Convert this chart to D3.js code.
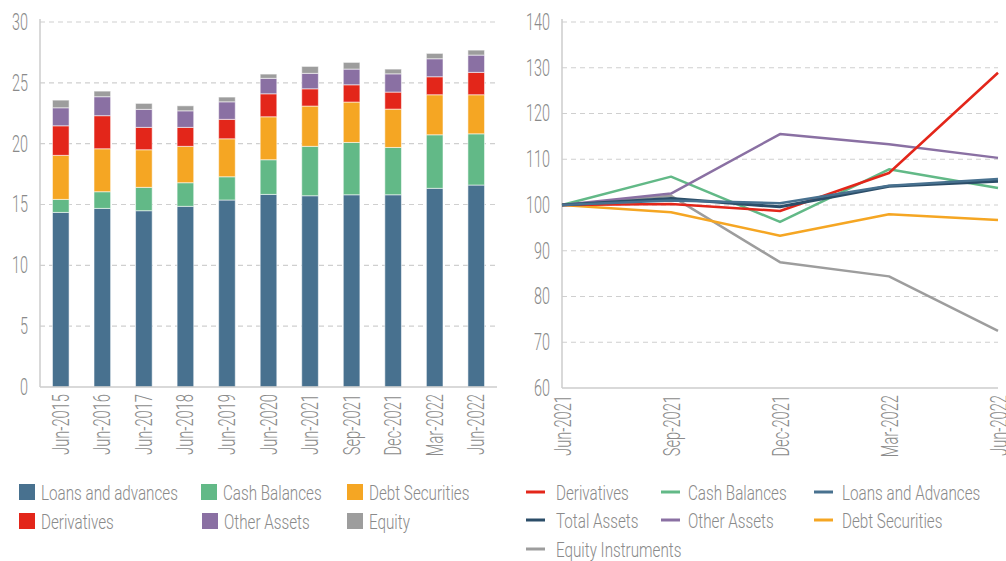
<!DOCTYPE html>
<html>
<head>
<meta charset="utf-8">
<script src="https://cdn.jsdelivr.net/npm/d3@7"></script>
<style>
  html, body { margin: 0; padding: 0; background: #fff; }
  svg text { font-family: Roboto, "Liberation Sans", sans-serif; font-weight: 300; fill: #8a8a8a; }
</style>
</head>
<body>
<svg id="chart" width="1006" height="561"></svg>
<script>
// ---------- Left chart data ----------
const barCategories = ["Jun-2015","Jun-2016","Jun-2017","Jun-2018","Jun-2019","Jun-2020","Jun-2021","Sep-2021","Dec-2021","Mar-2022","Jun-2022"];
const loansAdvances = [14.35,14.68,14.49,14.85,15.37,15.83,15.72,15.80,15.80,16.33,16.60];
const cashBalances  = [1.07,1.37,1.92,1.94,1.91,2.85,4.06,4.30,3.89,4.40,4.21];
const debtSecurities= [3.62,3.53,3.09,2.99,3.12,3.53,3.31,3.32,3.15,3.29,3.21];
const derivatives   = [2.43,2.72,1.84,1.56,1.60,1.89,1.42,1.42,1.40,1.48,1.84];
const otherAssets   = [1.48,1.56,1.48,1.36,1.44,1.27,1.27,1.29,1.50,1.48,1.42];
const equity        = [0.63,0.46,0.49,0.41,0.39,0.35,0.57,0.55,0.39,0.44,0.41];
const barSeriesNames = ["Loans and advances","Cash Balances","Debt Securities","Derivatives","Other Assets","Equity"];
const barTicks = [0,5,10,15,20,25,30];

// ---------- Right chart data ----------
const lineCategories = ["Jun-2021","Sep-2021","Dec-2021","Mar-2022","Jun-2022"];
const idxDerivatives = [100,100.2,98.7,107.0,128.9];
const idxCash        = [100,106.2,96.3,107.8,103.7];
const idxLoans       = [100,101.0,100.4,104.2,105.7];
const idxTotal       = [100,101.4,99.6,104.1,105.2];
const idxOther       = [100,102.5,115.5,113.3,110.3];
const idxDebt        = [100,98.4,93.3,98.0,96.7];
const idxEquity      = [100,102.0,87.5,84.4,72.5];
const lineTicks = [60,70,80,90,100,110,120,130,140];

const colors = {
  loans: "#48718f", cash: "#62b987", debt: "#f5a623", deriv: "#e3261a",
  other: "#8a70a3", equity: "#9d9d9d", total: "#2b4d68"
};

const svg = d3.select("#chart");
const axisFont = 23;
const legendFont = 21;
const textColor = "#8a8a8a";

// measure helper to emulate a condensed face
function measure(str, size) {
  const t = svg.append("text").attr("font-size", size).text(str);
  const w = t.node().getComputedTextLength();
  t.remove();
  return w;
}
const fTick = 16 / measure("30", axisFont);
const fXLab = 61 / measure("Jun-2015", axisFont);
const fLeg  = 137 / measure("Loans and advances", legendFont);

function condenseH(sel, f) {
  sel.each(function() {
    const t = d3.select(this);
    const x = +t.attr("x") || 0;
    t.attr("transform", `translate(${x * (1 - f)},0) scale(${f},1)`);
  });
}
function styleYAxis(ya) {
  ya.select(".domain").remove();
  ya.selectAll("text").attr("font-size", axisFont).attr("fill", textColor)
    .style("font-family", "Roboto, sans-serif").style("font-weight", 300);
  condenseH(ya.selectAll("text"), fTick);
}
function styleXAxis(xa) {
  xa.select(".domain").remove();
  xa.selectAll("text").attr("font-size", axisFont).attr("fill", textColor)
    .style("font-family", "Roboto, sans-serif").style("font-weight", 300)
    .attr("text-anchor", "end")
    .attr("transform", `rotate(-90) scale(${fXLab},1)`)
    .attr("x", -7 / fXLab).attr("y", 0).attr("dy", "0.35em");
}

// ================= LEFT: stacked bars =================
(function(){
  const m = {left: 40, right: 497, top: 22, bottom: 387};
  const x = d3.scaleBand().domain(barCategories).range([m.left, m.right]).paddingInner(0.6).paddingOuter(0.3);
  const y = d3.scaleLinear().domain([0,30]).range([m.bottom, m.top]);
  const g = svg.append("g");

  g.selectAll("line.grid").data(barTicks.filter(d => d > 0)).join("line")
    .attr("x1", m.left).attr("x2", m.right)
    .attr("y1", d => y(d)).attr("y2", d => y(d))
    .attr("stroke", "#cfcfcf").attr("stroke-width", 1.2).attr("stroke-dasharray", "5,4");

  const table = barCategories.map((c,i) => ({
    cat: c, s0: loansAdvances[i], s1: cashBalances[i], s2: debtSecurities[i],
    s3: derivatives[i], s4: otherAssets[i], s5: equity[i]
  }));
  const keys = ["s0","s1","s2","s3","s4","s5"];
  const keyColors = [colors.loans, colors.cash, colors.debt, colors.deriv, colors.other, colors.equity];
  const stacked = d3.stack().keys(keys)(table);

  g.selectAll("g.layer").data(stacked).join("g")
    .attr("fill", (d,i) => keyColors[i])
    .selectAll("rect").data(d => d).join("rect")
      .attr("x", d => x(d.data.cat))
      .attr("width", x.bandwidth())
      .attr("y", d => y(d[1]))
      .attr("height", d => y(d[0]) - y(d[1]))
      .attr("stroke", "rgba(255,255,255,0.55)").attr("stroke-width", 1);

  g.append("line").attr("x1", m.left).attr("x2", m.left).attr("y1", m.top - 3).attr("y2", m.bottom)
    .attr("stroke", "#cccccc").attr("stroke-width", 1.5);
  g.append("line").attr("x1", m.left).attr("x2", m.right).attr("y1", m.bottom).attr("y2", m.bottom)
    .attr("stroke", "#cccccc").attr("stroke-width", 1.5);

  styleYAxis(g.append("g").attr("transform", `translate(${m.left},0)`)
    .call(d3.axisLeft(y).tickValues(barTicks).tickSize(0).tickPadding(12)));
  styleXAxis(g.append("g").attr("transform", `translate(0,${m.bottom})`)
    .call(d3.axisBottom(x).tickSize(0).tickPadding(0)));

  const legPos = [[19,492,41],[201,492,223],[347,492,369],[19,521,41],[202,521,224],[347,521,369]];
  legPos.forEach(([lx, ly, tx], si) => {
    g.append("rect").attr("x", lx).attr("y", ly - 8).attr("width", 16).attr("height", 16).attr("fill", keyColors[si]);
    const t = g.append("text").attr("x", tx).attr("y", ly).attr("dy", "0.36em")
      .attr("font-size", legendFont).text(barSeriesNames[si]);
    condenseH(t, fLeg);
  });
})();

// ================= RIGHT: index lines =================
(function(){
  const m = {left: 562, right: 998, top: 22, bottom: 388};
  const x = d3.scalePoint().domain(lineCategories).range([m.left, m.right]);
  const y = d3.scaleLinear().domain([60,140]).range([m.bottom, m.top]);
  const g = svg.append("g");

  g.selectAll("line.grid").data(lineTicks.filter(d => d > 60)).join("line")
    .attr("x1", m.left).attr("x2", m.right)
    .attr("y1", d => y(d)).attr("y2", d => y(d))
    .attr("stroke", "#cfcfcf").attr("stroke-width", 1.2).attr("stroke-dasharray", "5,4");

  g.append("line").attr("x1", m.left).attr("x2", m.left).attr("y1", m.top - 3).attr("y2", m.bottom)
    .attr("stroke", "#cccccc").attr("stroke-width", 1.5);
  g.append("line").attr("x1", m.left).attr("x2", m.right).attr("y1", m.bottom).attr("y2", m.bottom)
    .attr("stroke", "#cccccc").attr("stroke-width", 1.5);

  styleYAxis(g.append("g").attr("transform", `translate(${m.left},0)`)
    .call(d3.axisLeft(y).tickValues(lineTicks).tickSize(0).tickPadding(12)));
  styleXAxis(g.append("g").attr("transform", `translate(0,${m.bottom})`)
    .call(d3.axisBottom(x).tickSize(0).tickPadding(0)));

  const series = [
    {name: "Equity Instruments", values: idxEquity, color: colors.equity, w: 2.5},
    {name: "Debt Securities", values: idxDebt, color: colors.debt, w: 2.5},
    {name: "Cash Balances", values: idxCash, color: colors.cash, w: 2.5},
    {name: "Other Assets", values: idxOther, color: colors.other, w: 2.5},
    {name: "Derivatives", values: idxDerivatives, color: colors.deriv, w: 2.5},
    {name: "Total Assets", values: idxTotal, color: colors.total, w: 3},
    {name: "Loans and Advances", values: idxLoans, color: colors.loans, w: 2.5}
  ];
  const line = d3.line().x((d,i) => x(lineCategories[i])).y(d => y(d));
  g.selectAll("path.series").data(series).join("path")
    .attr("fill", "none")
    .attr("stroke", d => d.color)
    .attr("stroke-width", d => d.w)
    .attr("stroke-linejoin", "round")
    .attr("d", d => line(d.values));

  const legItems = [
    ["Derivatives", colors.deriv, 526, 492, 556],
    ["Cash Balances", colors.cash, 661, 492, 688],
    ["Loans and Advances", colors.loans, 814, 492, 842],
    ["Total Assets", colors.total, 526, 520, 556],
    ["Other Assets", colors.other, 661, 520, 688],
    ["Debt Securities", colors.debt, 814, 520, 842],
    ["Equity Instruments", colors.equity, 526, 549, 556]
  ];
  legItems.forEach(([name, c, lx, ly, tx]) => {
    g.append("line").attr("x1", lx).attr("x2", lx + 19).attr("y1", ly).attr("y2", ly)
      .attr("stroke", c).attr("stroke-width", 3);
    const t = g.append("text").attr("x", tx).attr("y", ly).attr("dy", "0.36em")
      .attr("font-size", legendFont).text(name);
    condenseH(t, fLeg);
  });
})();
</script>
</body>
</html>
